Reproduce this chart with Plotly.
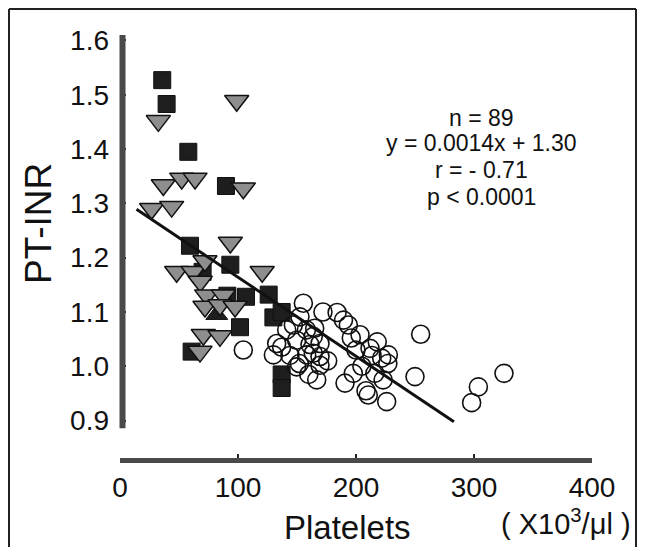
import plotly.graph_objects as go

# ---------------- data ----------------
SQ_X = [35.8, 39.5, 57.9, 89.8, 59.3, 93.5, 70.0, 91.0, 106.8, 126.0, 130.0, 137.0, 101.7, 60.7, 137.0, 137.0]
SQ_Y = [1.527, 1.483, 1.395, 1.332, 1.222, 1.187, 1.174, 1.130, 1.128, 1.132, 1.090, 1.100, 1.072, 1.027, 0.985, 0.960]

UP_X = [82.0]
UP_Y = [1.095]

TRI_X = [32.5, 26.8, 43.8, 36.7, 52.3, 63.6, 98.9, 104.5, 93.5, 48.0, 62.0, 72.0, 120.5, 68.0,
         73.4, 87.6, 72.0, 84.7, 97.5, 70.6, 84.7, 67.8]
TRI_Y = [1.452, 1.290, 1.294, 1.334, 1.346, 1.346, 1.489, 1.328, 1.228, 1.174, 1.174, 1.194, 1.174, 1.156,
         1.131, 1.131, 1.110, 1.113, 1.110, 1.058, 1.056, 1.027]

CIR_X = [104.5, 132.8, 130.0, 141.3, 144.0, 146.9, 149.7, 149.7, 152.5, 155.4, 158.0, 158.2, 161.0, 163.8,
         163.8, 166.7, 169.5, 169.5, 169.5, 172.0, 184.0, 189.4, 193.5, 196.0, 203.4, 190.7, 197.7, 205.0,
         211.9, 213.6, 216.0, 221.8, 227.4, 223.0, 210.4, 226.0, 208.5, 254.8, 250.0, 303.7, 298.0, 325.4,
         137.0, 152.0, 176.0, 165.0, 200.0, 218.0, 227.0, 160.0]
CIR_Y = [1.030, 1.042, 1.021, 1.067, 1.020, 1.076, 1.048, 0.999, 1.091, 1.116, 1.067, 1.021, 1.040, 1.055,
         1.024, 0.975, 1.042, 1.002, 1.018, 1.100, 1.099, 1.085, 1.076, 1.052, 1.058, 0.969, 0.987, 1.000,
         1.033, 1.020, 0.987, 1.015, 1.021, 0.975, 0.947, 0.935, 0.955, 1.059, 0.981, 0.962, 0.933, 0.987,
         1.035, 1.005, 1.010, 1.070, 1.030, 1.045, 1.005, 0.985]

LINE_X = [14, 283]
LINE_Y = [1.289, 0.898]

X_TICKS = [0, 100, 200, 300, 400]
Y_TICKS = [0.9, 1.0, 1.1, 1.2, 1.3, 1.4, 1.5, 1.6]
Y_TICK_TEXT = ["0.9", "1.0", "1.1", "1.2", "1.3", "1.4", "1.5", "1.6"]

STATS = ["n = 89", "y = 0.0014x + 1.30", "r = - 0.71", "p < 0.0001"]

# ---------------- layout geometry ----------------
# The page body has an 8px margin, so the figure is 16px smaller than the window
# and all screen positions below are converted with that 8px offset.
OFF = 8
W, H = 645 - 2 * OFF, 555 - 2 * OFF
PLOT_L, PLOT_R, PLOT_T, PLOT_B = 120, 592, 30, 458   # screen pixels
ML = PLOT_L - OFF
MR = W - (PLOT_R - OFF)
MT = PLOT_T - OFF
MB = H - (PLOT_B - OFF)
X_RANGE = [0, 400]
Y_RANGE = [0.8311, 1.6193]
PW = PLOT_R - PLOT_L
PH = PLOT_B - PLOT_T

FONT = "Liberation Sans, Arial, sans-serif"


def px_x(px):
    return (px - PLOT_L) / PW


def px_y(py):
    return (PLOT_B - py) / PH


def data_to_paper_y(v):
    return (v - Y_RANGE[0]) / (Y_RANGE[1] - Y_RANGE[0])


fig = go.Figure()

fig.add_trace(go.Scatter(
    x=SQ_X, y=SQ_Y, mode="markers",
    marker=dict(symbol="square", size=17, color="#1e1e1e", line=dict(color="#111", width=1)),
    showlegend=False, hoverinfo="skip"))

fig.add_trace(go.Scatter(
    x=UP_X, y=UP_Y, mode="markers",
    marker=dict(symbol="triangle-up", size=19, color="#1e1e1e", line=dict(color="#111", width=1)),
    showlegend=False, hoverinfo="skip"))

fig.add_trace(go.Scatter(
    x=TRI_X, y=TRI_Y, mode="markers",
    marker=dict(symbol="triangle-down", size=21, color="#8e8e8e", line=dict(color="#111", width=1.5)),
    showlegend=False, hoverinfo="skip"))

fig.add_trace(go.Scatter(
    x=CIR_X, y=CIR_Y, mode="markers",
    marker=dict(symbol="circle-open", size=18, color="#111", line=dict(color="#111", width=1.6)),
    showlegend=False, hoverinfo="skip"))

fig.add_trace(go.Scatter(
    x=LINE_X, y=LINE_Y, mode="lines",
    line=dict(color="#111", width=3),
    showlegend=False, hoverinfo="skip"))

frame = dict(color="#222", width=2)
shapes = [
    # y-axis bar (stops short of the x bar, as in the original)
    dict(type="line", xref="paper", yref="paper",
         x0=px_x(122.5), x1=px_x(122.5),
         y0=data_to_paper_y(0.886), y1=data_to_paper_y(1.61),
         line=dict(color="#4a4a4a", width=6)),
    # outer frame (left, top, right)
    dict(type="line", xref="paper", yref="paper", x0=px_x(9), x1=px_x(9),
         y0=px_y(9), y1=px_y(560), line=frame),
    dict(type="line", xref="paper", yref="paper", x0=px_x(9), x1=px_x(636),
         y0=px_y(9), y1=px_y(9), line=frame),
    dict(type="line", xref="paper", yref="paper", x0=px_x(636), x1=px_x(636),
         y0=px_y(9), y1=px_y(560), line=frame),
]

annotations = [
    dict(text="PT-INR", xref="paper", yref="paper", x=px_x(38), y=px_y(224),
         textangle=-90, showarrow=False, font=dict(family=FONT, size=37, color="#111"),
         xanchor="center", yanchor="middle"),
    dict(text="Platelets", xref="paper", yref="paper", x=px_x(347), y=px_y(527),
         showarrow=False, font=dict(family=FONT, size=33, color="#111"),
         xanchor="center", yanchor="middle"),
    dict(text="( X10<sup>3</sup>/\u03bcl )", xref="paper", yref="paper", x=px_x(566), y=px_y(522),
         showarrow=False, font=dict(family=FONT, size=29, color="#111"),
         xanchor="center", yanchor="middle"),
]
for line_txt, yy in zip(STATS, [118, 143, 170, 197]):
    annotations.append(dict(text=line_txt, xref="paper", yref="paper", x=px_x(481), y=px_y(yy),
                            showarrow=False, font=dict(family=FONT, size=23, color="#111"),
                            xanchor="center", yanchor="middle"))

fig.update_layout(
    width=W, height=H,
    margin=dict(l=ML, r=MR, t=MT, b=MB, pad=0),
    paper_bgcolor="white", plot_bgcolor="white",
    shapes=shapes, annotations=annotations,
    xaxis=dict(range=X_RANGE, tickvals=X_TICKS, ticktext=[str(t) for t in X_TICKS],
               showgrid=False, zeroline=False, showline=True, linecolor="#4a4a4a", linewidth=5,
               ticks="inside", ticklen=4, tickwidth=2, tickcolor="#222",
               tickfont=dict(family=FONT, size=28, color="#111"), fixedrange=True),
    yaxis=dict(range=Y_RANGE, tickvals=Y_TICKS, ticktext=Y_TICK_TEXT,
               showgrid=False, zeroline=False, showline=False,
               ticks="inside", ticklen=6, tickwidth=2, tickcolor="#222",
               ticklabelstandoff=10,
               tickfont=dict(family=FONT, size=28, color="#111"), fixedrange=True),
)

fig.write_html("out.html")
